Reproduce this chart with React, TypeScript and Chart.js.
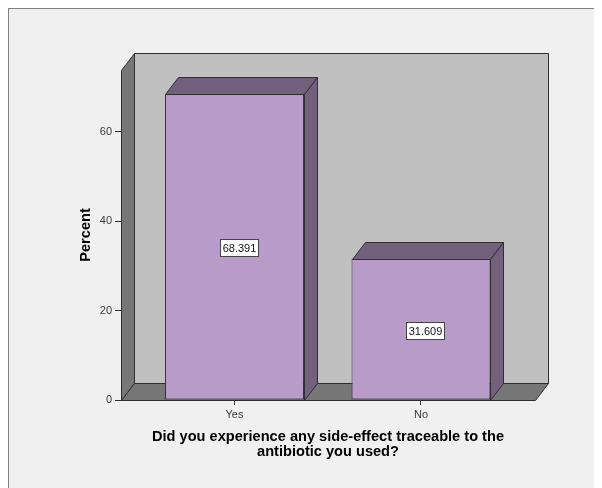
import { useEffect, useRef } from 'react';
import { Chart, registerables } from 'chart.js';

Chart.register(...registerables);

// Survey answers and their share of respondents (%)
const categories = ['Yes', 'No'];
const percents = [68.391, 31.609];
const yTicks = [0, 20, 40, 60];
const yMax = 73.8;
const xTitle = ['Did you experience any side-effect traceable to the', 'antibiotic you used?'];
const yTitle = 'Percent';

// 3D extrusion offset (px) used for walls, floor and bar faces
const DX = 13;
const DY = -17;

const FONT = "'Liberation Sans', Arial, Helvetica, sans-serif";
const EDGE = '#2f2f2f';
const WALL = '#c0c0c0';
const SIDE = '#777777';
const FRONT = '#b89bc9';
const SHADE = '#72607d';
const TEXT = '#3a3a3a';

type Pt = [number, number];

function poly(ctx: CanvasRenderingContext2D, pts: Pt[], fill: string) {
  ctx.beginPath();
  pts.forEach(([x, y], i) => {
    const px = Math.round(x) + 0.5;
    const py = Math.round(y) + 0.5;
    if (i === 0) ctx.moveTo(px, py);
    else ctx.lineTo(px, py);
  });
  ctx.closePath();
  ctx.fillStyle = fill;
  ctx.fill();
  ctx.stroke();
}

const box3d = {
  id: 'box3d',
  beforeDatasetsDraw(chart: any) {
    const { ctx, chartArea } = chart;
    const { left, right, top, bottom } = chartArea;
    ctx.save();
    ctx.lineWidth = 1;
    ctx.strokeStyle = EDGE;
    ctx.lineJoin = 'miter';
    // back wall
    poly(ctx, [[left + DX, top + DY], [right + DX, top + DY], [right + DX, bottom + DY], [left + DX, bottom + DY]], WALL);
    // left wall
    poly(ctx, [[left, top], [left + DX, top + DY], [left + DX, bottom + DY], [left, bottom]], SIDE);
    // floor
    poly(ctx, [[left, bottom], [left + DX, bottom + DY], [right + DX, bottom + DY], [right, bottom]], SIDE);
    ctx.restore();
  },
  afterDatasetsDraw(chart: any) {
    const { ctx } = chart;
    const meta = chart.getDatasetMeta(0);
    ctx.save();
    ctx.lineWidth = 1;
    ctx.strokeStyle = EDGE;
    meta.data.forEach((bar: any, i: number) => {
      const { x, y, base, width } = bar.getProps(['x', 'y', 'base', 'width'], true);
      const x0 = x - width / 2;
      const x1 = x + width / 2;
      // top face
      poly(ctx, [[x0, y], [x0 + DX, y + DY], [x1 + DX, y + DY], [x1, y]], SHADE);
      // right face
      poly(ctx, [[x1, y], [x1 + DX, y + DY], [x1 + DX, base + DY], [x1, base]], SHADE);

      // value label
      const text = percents[i].toFixed(3);
      ctx.font = `11px ${FONT}`;
      const tw = ctx.measureText(text).width;
      const w = Math.round(tw + 4);
      const h = 17;
      const cx = x + 4.5;
      const cy = (y + base) / 2 + 1;
      const bx = Math.round(cx - w / 2) + 0.5;
      const by = Math.round(cy - h / 2) + 0.5;
      ctx.fillStyle = '#ffffff';
      ctx.fillRect(bx, by, w, h);
      ctx.strokeStyle = '#444444';
      ctx.strokeRect(bx, by, w, h);
      ctx.fillStyle = '#111111';
      ctx.textAlign = 'center';
      ctx.textBaseline = 'middle';
      ctx.fillText(text, bx + w / 2, by + h / 2 + 0.5);
      ctx.strokeStyle = EDGE;
    });
    ctx.restore();
  },
};

export default function App() {
  const canvasRef = useRef<HTMLCanvasElement | null>(null);

  useEffect(() => {
    document.documentElement.style.overflow = 'hidden';
    document.body.style.overflow = 'hidden';
    const canvas = canvasRef.current;
    if (!canvas) return;

    const chart = new Chart(canvas, {
      type: 'bar',
      data: {
        datasets: [
          {
            data: categories.map((_, i) => ({ x: i, y: percents[i] })),
            backgroundColor: FRONT,
            borderColor: EDGE,
            borderWidth: 1,
            borderSkipped: false,
            categoryPercentage: 1,
            barPercentage: 0.745,
          },
        ],
      },
      options: {
        animation: false,
        responsive: false,
        events: [],
        layout: { padding: { left: 0, top: 61, right: 67, bottom: 0 } },
        plugins: {
          legend: { display: false },
          tooltip: { enabled: false },
        },
        scales: {
          x: {
            type: 'linear',
            offset: false,
            min: -0.6086,
            max: 1.6113,
            afterBuildTicks: (s: any) => {
              s.ticks = categories.map((_, i) => ({ value: i }));
            },
            afterFit: (s: any) => {
              s.height = 88;
            },
            ticks: {
              callback: (_v: any, i: number) => categories[i] ?? '',
              font: { family: FONT, size: 11 },
              color: TEXT,
              padding: 3,
              maxRotation: 0,
              autoSkip: false,
            },
            grid: { drawOnChartArea: false, offset: false, tickLength: 5, color: EDGE },
            border: { display: false },
            title: {
              display: true,
              text: xTitle,
              color: '#000000',
              font: { family: FONT, size: 14.6, weight: 'bold', lineHeight: 15 / 14.6 },
              padding: { top: 0, bottom: 29 },
            },
          },
          y: {
            min: 0,
            max: yMax,
            afterBuildTicks: (s: any) => {
              s.ticks = yTicks.map((v) => ({ value: v }));
            },
            afterFit: (s: any) => {
              s.width = 112;
            },
            ticks: {
              font: { family: FONT, size: 11 },
              color: TEXT,
              padding: 3,
            },
            grid: { drawOnChartArea: false, tickLength: 6, color: EDGE },
            border: { display: false },
            title: {
              display: true,
              text: yTitle,
              color: '#000000',
              font: { family: FONT, size: 14.6, weight: 'bold' },
              padding: { top: 68, bottom: 0 },
            },
          },
        },
      },
      plugins: [box3d],
    } as any);

    return () => chart.destroy();
  }, []);

  return (
    <div
      style={{
        width: 594,
        height: 480,
        boxSizing: 'border-box',
        borderLeft: '1px solid #808080',
        borderTop: '1px solid #808080',
        background: '#f0f0f0',
      }}
    >
      <canvas ref={canvasRef} width={593} height={479} style={{ display: 'block' }} />
    </div>
  );
}
